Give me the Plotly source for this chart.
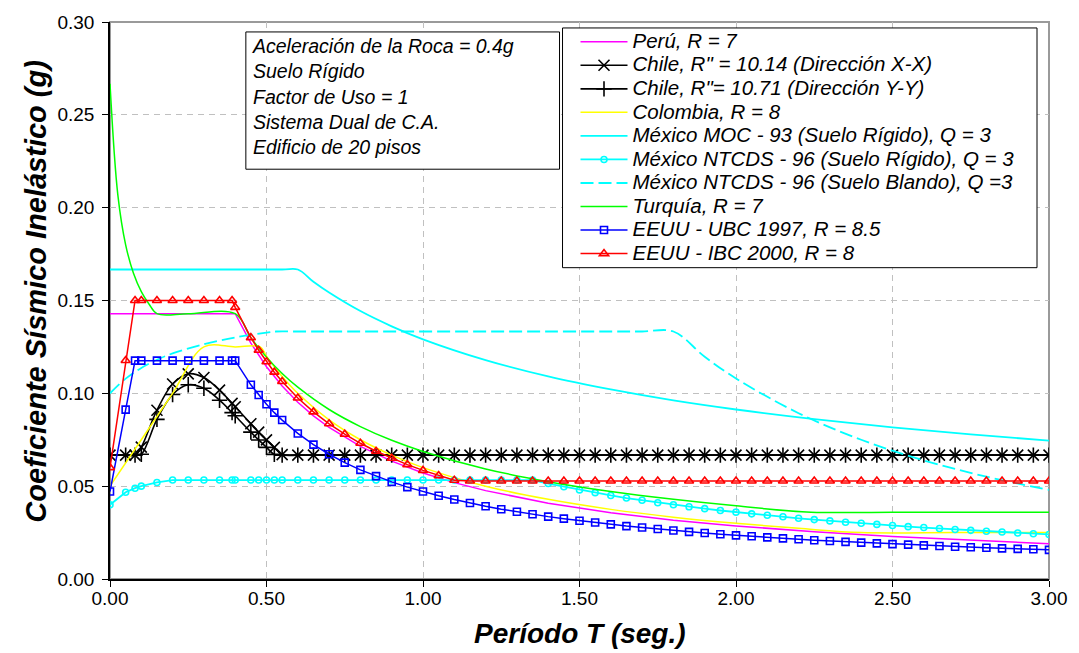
import plotly.graph_objects as go

# ---------------------------------------------------------------------------
# Data: inelastic seismic coefficient (g) versus period T (s)
# ---------------------------------------------------------------------------

# Period grid shared by the series drawn with markers
T_GRID = [0.00, 0.05, 0.08, 0.10, 0.15, 0.20, 0.25, 0.30, 0.35, 0.39, 0.40,
          0.45, 0.475, 0.50, 0.525, 0.55,
          0.60, 0.65, 0.70, 0.75, 0.80, 0.85, 0.90, 0.95, 1.00,
          1.05, 1.10, 1.15, 1.20, 1.25, 1.30, 1.35, 1.40, 1.45, 1.50,
          1.55, 1.60, 1.65, 1.70, 1.75, 1.80, 1.85, 1.90, 1.95, 2.00,
          2.05, 2.10, 2.15, 2.20, 2.25, 2.30, 2.35, 2.40, 2.45, 2.50,
          2.55, 2.60, 2.65, 2.70, 2.75, 2.80, 2.85, 2.90, 2.95, 3.00]

CHILE_XX = [0.0667, 0.0667, 0.0667, 0.0710, 0.0909, 0.1050, 0.1105, 0.1085, 0.1017, 0.0946, 0.0928,
            0.0836, 0.0791, 0.0749, 0.0709, 0.0670,
            0.0667, 0.0667, 0.0667, 0.0667, 0.0667, 0.0667, 0.0667, 0.0667, 0.0667,
            0.0667, 0.0667, 0.0667, 0.0667, 0.0667, 0.0667, 0.0667, 0.0667, 0.0667, 0.0667,
            0.0667, 0.0667, 0.0667, 0.0667, 0.0667, 0.0667, 0.0667, 0.0667, 0.0667, 0.0667,
            0.0667, 0.0667, 0.0667, 0.0667, 0.0667, 0.0667, 0.0667, 0.0667, 0.0667, 0.0667,
            0.0667, 0.0667, 0.0667, 0.0667, 0.0667, 0.0667, 0.0667, 0.0667, 0.0667, 0.0667]

CHILE_YY = [0.0667, 0.0667, 0.0667, 0.0672, 0.0860, 0.0994, 0.1046, 0.1027, 0.0963, 0.0896, 0.0879,
            0.0791, 0.0749, 0.0709, 0.0671, 0.0667,
            0.0667, 0.0667, 0.0667, 0.0667, 0.0667, 0.0667, 0.0667, 0.0667, 0.0667,
            0.0667, 0.0667, 0.0667, 0.0667, 0.0667, 0.0667, 0.0667, 0.0667, 0.0667, 0.0667,
            0.0667, 0.0667, 0.0667, 0.0667, 0.0667, 0.0667, 0.0667, 0.0667, 0.0667, 0.0667,
            0.0667, 0.0667, 0.0667, 0.0667, 0.0667, 0.0667, 0.0667, 0.0667, 0.0667, 0.0667,
            0.0667, 0.0667, 0.0667, 0.0667, 0.0667, 0.0667, 0.0667, 0.0667, 0.0667, 0.0667]

MEX_NTCDS_RIG = [0.0400, 0.0467, 0.0489, 0.0500, 0.0520, 0.0533, 0.0533, 0.0533, 0.0533, 0.0533, 0.0533,
                 0.0533, 0.0533, 0.0533, 0.0533, 0.0533,
                 0.0533, 0.0533, 0.0533, 0.0533, 0.0533, 0.0533, 0.0533, 0.0533, 0.0533,
                 0.0533, 0.0533, 0.0533, 0.0533, 0.0533, 0.0533, 0.0533, 0.0514, 0.0497, 0.0480,
                 0.0465, 0.0450, 0.0436, 0.0424, 0.0411, 0.0400, 0.0389, 0.0379, 0.0369, 0.0360,
                 0.0351, 0.0343, 0.0335, 0.0327, 0.0320, 0.0313, 0.0306, 0.0300, 0.0294, 0.0288,
                 0.0282, 0.0277, 0.0272, 0.0267, 0.0262, 0.0257, 0.0253, 0.0248, 0.0244, 0.0240]

UBC_1997 = [0.0471, 0.0912, 0.1176, 0.1176, 0.1176, 0.1176, 0.1176, 0.1176, 0.1176, 0.1176, 0.1176,
            0.1046, 0.0991, 0.0941, 0.0896, 0.0856,
            0.0784, 0.0724, 0.0672, 0.0627, 0.0588, 0.0554, 0.0523, 0.0495, 0.0471,
            0.0448, 0.0428, 0.0409, 0.0392, 0.0376, 0.0362, 0.0349, 0.0336, 0.0325, 0.0314,
            0.0304, 0.0294, 0.0285, 0.0277, 0.0269, 0.0261, 0.0254, 0.0248, 0.0241, 0.0235,
            0.0230, 0.0224, 0.0219, 0.0214, 0.0209, 0.0205, 0.0200, 0.0196, 0.0192, 0.0188,
            0.0185, 0.0181, 0.0178, 0.0174, 0.0171, 0.0168, 0.0165, 0.0162, 0.0160, 0.0157]

IBC_2000 = [0.0600, 0.1177, 0.1500, 0.1500, 0.1500, 0.1500, 0.1500, 0.1500, 0.1500, 0.1500, 0.1463,
            0.1300, 0.1232, 0.1170, 0.1114, 0.1064,
            0.0975, 0.0900, 0.0836, 0.0780, 0.0731, 0.0688, 0.0650, 0.0616, 0.0585,
            0.0557, 0.0532, 0.0528, 0.0528, 0.0528, 0.0528, 0.0528, 0.0528, 0.0528, 0.0528,
            0.0528, 0.0528, 0.0528, 0.0528, 0.0528, 0.0528, 0.0528, 0.0528, 0.0528, 0.0528,
            0.0528, 0.0528, 0.0528, 0.0528, 0.0528, 0.0528, 0.0528, 0.0528, 0.0528, 0.0528,
            0.0528, 0.0528, 0.0528, 0.0528, 0.0528, 0.0528, 0.0528, 0.0528, 0.0528, 0.0528]

# Series drawn as plain lines, each with its own period points
T_PERU = [0.0, 0.4, 0.45, 0.5, 0.55, 0.6, 0.65, 0.7, 0.8, 0.9, 1.0, 1.1, 1.2,
          1.4, 1.6, 1.8, 2.0, 2.25, 2.5, 2.75, 3.0]
PERU = [0.1429, 0.1429, 0.1270, 0.1143, 0.1039, 0.0952, 0.0879, 0.0816, 0.0714, 0.0635,
        0.0571, 0.0519, 0.0476, 0.0408, 0.0357, 0.0317, 0.0286, 0.0254, 0.0229, 0.0208, 0.0190]

T_COL = [0.0, 0.1, 0.2, 0.3, 0.4, 0.48, 0.5, 0.55, 0.6, 0.7, 0.8, 0.9, 1.0,
         1.2, 1.4, 1.6, 1.8, 2.0, 2.2, 2.4, 2.7, 3.0]
COLOMBIA = [0.0500, 0.0750, 0.1000, 0.1250, 0.1250, 0.1250, 0.1200, 0.1091, 0.1000, 0.0857,
            0.0750, 0.0667, 0.0600, 0.0500, 0.0429, 0.0375, 0.0333, 0.0300, 0.0273, 0.0250,
            0.0250, 0.0250]

T_MOC = [0.0, 0.55, 0.6, 0.65, 0.7, 0.8, 0.9, 1.0, 1.2, 1.4, 1.6, 1.8, 2.0,
         2.25, 2.5, 2.75, 3.0]
MEX_MOC = [0.1667, 0.1667, 0.1667, 0.1601, 0.1543, 0.1443, 0.1361, 0.1291, 0.1179, 0.1091,
           0.1021, 0.0962, 0.0913, 0.0861, 0.0817, 0.0779, 0.0745]

T_BLANDO = [0.0, 0.05, 0.1, 0.15, 0.2, 0.3, 0.4, 0.5, 0.53, 0.6, 0.8, 1.0, 1.2, 1.4,
            1.6, 1.7, 1.8, 1.9, 2.0, 2.2, 2.4, 2.6, 2.8, 3.0]
MEX_NTCDS_BLANDO = [0.1000, 0.1079, 0.1137, 0.1181, 0.1215, 0.1265, 0.1301, 0.1327, 0.1333,
                    0.1333, 0.1333, 0.1333, 0.1333, 0.1333, 0.1333, 0.1333, 0.1333,
                    0.1197, 0.1080, 0.0893, 0.0750, 0.0639, 0.0551, 0.0480]

T_TUR = [0.0, 0.025, 0.05, 0.075, 0.1, 0.125, 0.15, 0.25, 0.4, 0.45, 0.5, 0.55, 0.6,
         0.7, 0.8, 0.9, 1.0, 1.2, 1.4, 1.6, 1.8, 2.0, 2.24, 2.5, 3.0]
TURQUIA = [0.2667, 0.2069, 0.1800, 0.1647, 0.1548, 0.1480, 0.1429, 0.1429, 0.1429, 0.1300,
           0.1195, 0.1107, 0.1033, 0.0913, 0.0821, 0.0747, 0.0687, 0.0593, 0.0524, 0.0471,
           0.0429, 0.0394, 0.0360, 0.0360, 0.0360]

NOTE_LINES = ["Aceleración de la Roca = 0.4g", "Suelo Rígido", "Factor de Uso = 1",
              "Sistema Dual de C.A.", "Edificio de 20 pisos"]

X_TICKS = [0.0, 0.5, 1.0, 1.5, 2.0, 2.5, 3.0]
Y_TICKS = [0.0, 0.05, 0.10, 0.15, 0.20, 0.25, 0.30]

# ---------------------------------------------------------------------------
FONT = "Arial, 'Liberation Sans', sans-serif"

fig = go.Figure()


def entry(label):
    # legend rows stay compact while the label itself is set a little larger
    return '<span style="font-size:20.5px">' + label + "</span>"


def add_line(name, x, y, color, width=1.5, dash="solid", shape="linear"):
    fig.add_trace(go.Scatter(
        x=x, y=y, name=entry(name), mode="lines",
        line=dict(color=color, width=width, dash=dash, shape=shape, smoothing=1.0),
    ))


def add_marked(name, x, y, color, symbol, size, width=1.5, shape="linear"):
    fig.add_trace(go.Scatter(
        x=x, y=y, name=entry(name), mode="lines+markers",
        line=dict(color=color, width=width, shape=shape, smoothing=1.0),
        marker=dict(symbol=symbol, size=size, color=color,
                    line=dict(color=color, width=1.6)),
    ))


add_line("Perú, R = 7", T_PERU, PERU, "#FF00FF")
add_marked("Chile, R\" = 10.14 (Dirección X-X)", T_GRID, CHILE_XX, "#000000",
           "x-thin-open", 11, width=1.6, shape="spline")
add_marked("Chile, R\"= 10.71 (Dirección Y-Y)", T_GRID, CHILE_YY, "#000000",
           "cross-thin-open", 11, width=1.6, shape="spline")
add_line("Colombia, R = 8", T_COL, COLOMBIA, "#FFFF00", shape="spline")
add_line("México MOC - 93 (Suelo Rígido), Q = 3", T_MOC, MEX_MOC, "#00FFFF",
         width=1.8, shape="spline")
add_marked("México NTCDS - 96 (Suelo Rígido), Q = 3", T_GRID, MEX_NTCDS_RIG, "#00FFFF",
           "circle-open", 6, width=1.8)
add_line("México NTCDS - 96 (Suelo Blando), Q =3", T_BLANDO, MEX_NTCDS_BLANDO, "#00FFFF",
         width=1.8, dash="13px,5px", shape="spline")
add_line("Turquía, R = 7", T_TUR, TURQUIA, "#00FF00", shape="spline")
add_marked("EEUU - UBC 1997, R = 8.5", T_GRID, UBC_1997, "#0000FF", "square-open", 7)
add_marked("EEUU - IBC 2000, R = 8", T_GRID, IBC_2000, "#FF0000", "triangle-up-open", 8)

# Plot-area geometry (pixels) used to place boxes in paper coordinates
W, H = 1079, 653
L, R, T, B = 110, 1050, 19, 579


def px(xp):
    return (xp - L) / (R - L)


def py(yp):
    return (B - yp) / (B - T)


shapes = [
    # outer frame of the plot area (top and right edges show in grey)
    dict(type="rect", xref="paper", yref="paper", x0=0, x1=1, y0=0, y1=1,
         line=dict(color="#9a9a9a", width=2), layer="below"),
    # box behind the notes
    dict(type="rect", xref="paper", yref="paper", x0=px(246), x1=px(560),
         y0=py(167), y1=py(29), line=dict(color="#000000", width=1),
         fillcolor="#FFFFFF", layer="above"),
    # box behind the legend
    dict(type="rect", xref="paper", yref="paper", x0=px(563), x1=px(1038),
         y0=py(266), y1=py(25), line=dict(color="#000000", width=1),
         fillcolor="#FFFFFF", layer="above"),
]

annotations = [
    dict(text="<br>".join(NOTE_LINES), xref="paper", yref="paper",
         x=px(250), y=py(30), xanchor="left", yanchor="top", align="left",
         showarrow=False,
         font=dict(family=FONT, size=19.5, color="#000000", style="italic")),
    dict(text="Período T (seg.)", xref="paper", yref="paper",
         x=px(580), y=py(634), xanchor="center", yanchor="middle", showarrow=False,
         font=dict(family=FONT, size=28, color="#000000", style="italic", weight="bold")),
    dict(text="Coeficiente Sísmico Inelástico (g)", xref="paper", yref="paper",
         x=px(35), y=py(290), xanchor="center", yanchor="middle", textangle=-90,
         showarrow=False,
         font=dict(family=FONT, size=29, color="#000000", style="italic", weight="bold")),
]

axis_common = dict(
    showgrid=True, gridcolor="#c0c0c0", gridwidth=1, griddash="6px,5px",
    showline=True, linecolor="#000000", linewidth=1.5,
    ticks="outside", ticklen=6, tickcolor="#000000", tickwidth=1,
    tickformat=".2f", zeroline=False,
    tickfont=dict(family=FONT, size=19, color="#000000"),
)

fig.update_layout(
    width=W, height=H,
    margin=dict(l=L, r=W - R, t=T, b=H - B),
    paper_bgcolor="#FFFFFF", plot_bgcolor="#FFFFFF",
    showlegend=True,
    legend=dict(
        x=px(576), y=py(22), xanchor="left", yanchor="top",
        bgcolor="rgba(0,0,0,0)", borderwidth=0,
        font=dict(family=FONT, size=15.8, color="#000000", style="italic"),
        tracegroupgap=0, itemwidth=47,
    ),
    xaxis=dict(range=[0, 3.0], tickvals=X_TICKS, ticklabelstandoff=-5, **axis_common),
    yaxis=dict(range=[0, 0.30], tickvals=Y_TICKS, ticklabelstandoff=4, **axis_common),
    shapes=shapes,
    annotations=annotations,
)

fig.write_html("out.html")
